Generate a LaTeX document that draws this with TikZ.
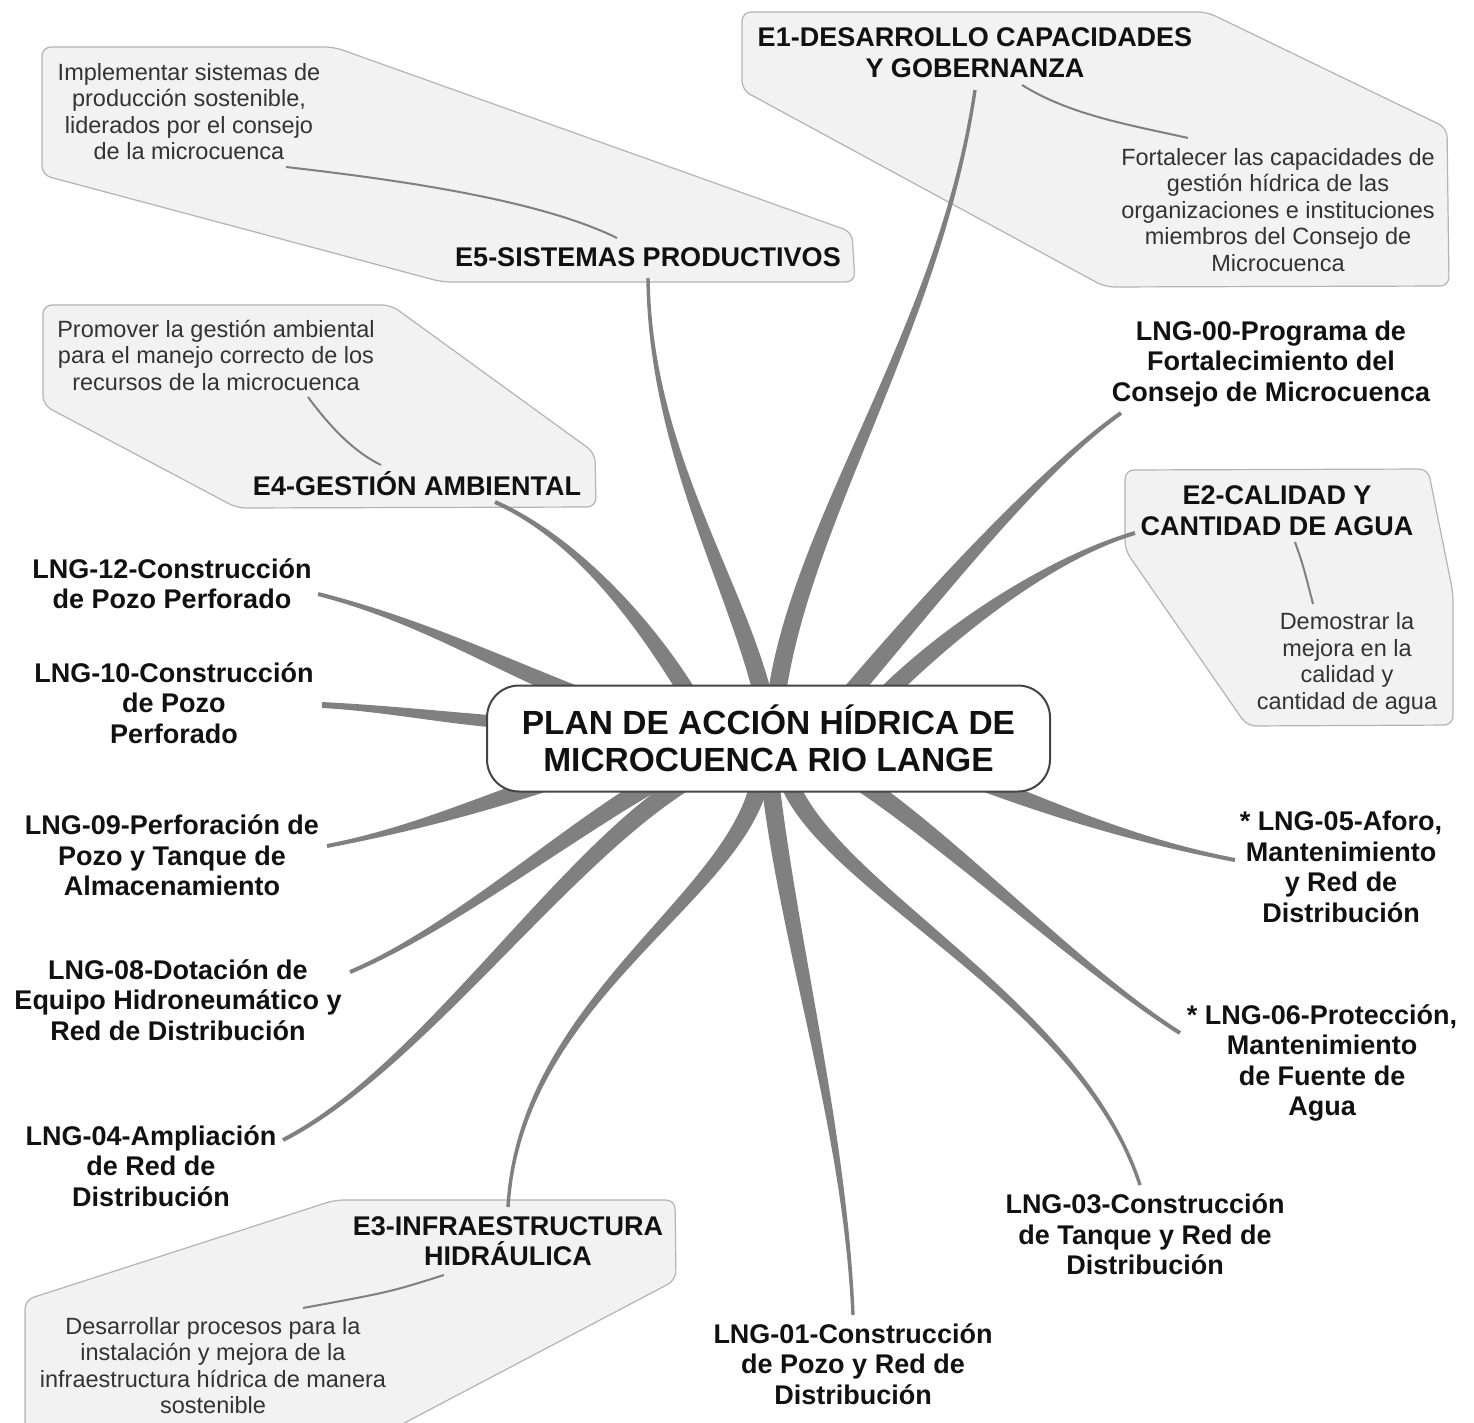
\documentclass[tikz,border=0pt]{standalone}
\usepackage{fontspec}
\setmainfont{Liberation Sans}
\usetikzlibrary{calc}
\definecolor{brc}{HTML}{808080}
\definecolor{boxfill}{HTML}{F2F2F2}
\definecolor{boxline}{HTML}{B4B4B4}
\definecolor{desctext}{HTML}{333333}
\definecolor{labtext}{HTML}{111111}
\definecolor{rootline}{HTML}{444444}
\tikzset{
  box/.style={fill=boxfill, draw=boxline, line width=1.2pt, rounded corners=9pt},
  lab/.style={align=center, inner sep=0pt, text=labtext, font=\bfseries\fontsize{27}{30.5}\selectfont},
  desc/.style={align=center, inner sep=0pt, text=desctext, font=\fontsize{23.5}{26.5}\selectfont},
  callout/.style={draw=brc, line width=2pt},
  rootbox/.style={draw=rootline, line width=2pt, fill=white, rounded corners=32pt,
    minimum width=563pt, minimum height=106pt, inner sep=0pt, align=center,
    text=labtext, font=\bfseries\fontsize{33.5}{37}\selectfont},
}
\newcommand\mybranch[6]{%
  \fill[brc] ($(#1)!#5!90:#2$) .. controls ($#2!#5!-90:(#1)$) and ($#3!#6!90:(#4)$) .. ($(#4)!#6!-90:#3$)
   -- ($(#4)!#6!90:#3$) .. controls ($#3!#6!-90:(#4)$) and ($#2!#5!90:(#1)$) .. ($(#1)!#5!-90:#2$) -- cycle;}
\begin{document}
\begin{tikzpicture}[x=1pt,y=-1pt]
\useasboundingbox (0,0) rectangle (1474,1423);
\clip (0,0) rectangle (1474,1423);
\fill[white] (0,0) rectangle (1474,1423);

% callout boxes
\draw[box] (742,12) -- (1207,12) -- (1447,128) -- (1449,286) -- (1105,287) -- (742,90) -- cycle;
\draw[box] (42,47) -- (334,47) -- (852,232) -- (855,282) -- (442,282) -- (42,175) -- cycle;
\draw[box] (43,305) -- (391,305) -- (595,453) -- (596,507) -- (237,508) -- (43,405) -- cycle;
\draw[box] (1125,470) -- (1428,469) -- (1453,593) -- (1453,725) -- (1247,726) -- (1125,550) -- cycle;
\draw[box] (335,1200) -- (675,1200) -- (676,1280) -- (372,1440) -- (25,1440) -- (25,1300) -- cycle;

% text nodes
\node[lab] (e1) at (975,52.5) {E1-DESARROLLO CAPACIDADES\\Y GOBERNANZA};
\node[desc] (e1d) at (1278,209.8) {Fortalecer las capacidades de\\gestión hídrica de las\\organizaciones e instituciones\\miembros del Consejo de\\Microcuenca};
\node[lab] (e5) at (648,257) {E5-SISTEMAS PRODUCTIVOS};
\node[desc] (e5d) at (189,111.5) {Implementar sistemas de\\producción sostenible,\\liderados por el consejo\\de la microcuenca};
\node[lab] (e4) at (417,484) {E4-GESTIÓN AMBIENTAL};
\node[desc] (e4d) at (216,355) {Promover la gestión ambiental\\para el manejo correcto de los\\recursos de la microcuenca};
\node[lab] (e2) at (1277,510.5) {E2-CALIDAD Y\\CANTIDAD DE AGUA};
\node[desc] (e2d) at (1347,663.5) {Demostrar la\\mejora en la\\calidad y\\cantidad de agua};
\node[lab] (e3) at (508,1241) {E3-INFRAESTRUCTURA\\HIDRÁULICA};
\node[desc] (e3d) at (213,1365.5) {Desarrollar procesos para la\\instalación y mejora de la\\infraestructura hídrica de manera\\sostenible};
\node[lab] (l00) at (1271,364) {LNG-00-Programa de\\Fortalecimiento del\\Consejo de Microcuenca};
\node[lab] (l05) at (1341,867) {* LNG-05-Aforo,\\Mantenimiento\\y Red de\\Distribución};
\node[lab] (l06) at (1322,1062.7) {* LNG-06-Protección,\\Mantenimiento\\de Fuente de\\Agua};
\node[lab] (l03) at (1145,1234.7) {LNG-03-Construcción\\de Tanque y Red de\\Distribución};
\node[lab] (l01) at (853,1364) {LNG-01-Construcción\\de Pozo y Red de\\Distribución};
\node[lab] (l04) at (151,1166) {LNG-04-Ampliación\\de Red de\\Distribución};
\node[lab] (l08) at (178,1000) {LNG-08-Dotación de\\Equipo Hidroneumático y\\Red de Distribución};
\node[lab] (l09) at (172,855.5) {LNG-09-Perforación de\\Pozo y Tanque de\\Almacenamiento};
\node[lab] (l10) at (174,703) {LNG-10-Construcción\\de Pozo\\Perforado};
\node[lab] (l12) at (172,583.5) {LNG-12-Construcción\\de Pozo Perforado};

% branch start points (under root) and free ends
\coordinate (s01) at (776,700);  \coordinate (t01) at (975,90);
\coordinate (s02) at (764,700);  \coordinate (t02) at (648,278);
\coordinate (s03) at (692,700);  \coordinate (t03) at (495,502);
\coordinate (s04) at (590,700);  \coordinate (t04) at (318,594);
\coordinate (s05) at (500,722);  \coordinate (t05) at (322,705);
\coordinate (s06) at (560,778);  \coordinate (t06) at (327,846);
\coordinate (s07) at (655,782);  \coordinate (t07) at (350,972);
\coordinate (s08) at (685,782);  \coordinate (t08) at (283,1140);
\coordinate (s09) at (760,780);  \coordinate (t09) at (508,1207);
\coordinate (s10) at (770,780);  \coordinate (t10) at (853,1315);
\coordinate (s11) at (788,780);  \coordinate (t11) at (1140,1185);
\coordinate (s12) at (850,775);  \coordinate (t12) at (1180,1033);
\coordinate (s13) at (950,770);  \coordinate (t13) at (1235,860);
\coordinate (s14) at (880,700);  \coordinate (t14) at (1135,533);
\coordinate (s15) at (845,700);  \coordinate (t15) at (1121,413);

\mybranch{s01}{(800,520)}{(940,330)}{t01}{9pt}{1.7pt}
\mybranch{s02}{(735,580)}{(650,450)}{t02}{9pt}{1.7pt}
\mybranch{s03}{(650,630)}{(580,540)}{t03}{8.5pt}{2pt}
\mybranch{s04}{(500,665)}{(420,620)}{t04}{8.5pt}{2pt}
\mybranch{s05}{(440,717)}{(380,708)}{t05}{6pt}{3pt}
\mybranch{s06}{(480,805)}{(410,830)}{t06}{8.5pt}{2pt}
\mybranch{s07}{(570,830)}{(450,930)}{t07}{9pt}{2pt}
\mybranch{s08}{(560,860)}{(420,1070)}{t08}{9pt}{2pt}
\mybranch{s09}{(735,900)}{(520,1000)}{t09}{9pt}{1.7pt}
\mybranch{s10}{(790,950)}{(845,1130)}{t10}{9pt}{1.7pt}
\mybranch{s11}{(830,890)}{(1080,1000)}{t11}{9pt}{1.7pt}
\mybranch{s12}{(950,840)}{(1080,970)}{t12}{9pt}{2pt}
\mybranch{s13}{(1040,805)}{(1130,840)}{t13}{8.5pt}{2pt}
\mybranch{s14}{(960,620)}{(1060,555)}{t14}{8.5pt}{2pt}
\mybranch{s15}{(930,600)}{(1040,470)}{t15}{9pt}{2pt}

% callout links inside boxes
\coordinate (c1a) at (1022,85);  \coordinate (c1b) at (1188,138);
\coordinate (c5a) at (617,238);  \coordinate (c5b) at (286,167);
\coordinate (c4a) at (381,465);  \coordinate (c4b) at (308,397);
\coordinate (c2a) at (1295,542); \coordinate (c2b) at (1313,604);
\coordinate (c3a) at (444,1275); \coordinate (c3b) at (303,1308);
\draw[callout] (c1a) .. controls (1070,115) and (1130,125) .. (c1b);
\draw[callout] (c5a) .. controls (540,200) and (400,180) .. (c5b);
\draw[callout] (c4a) .. controls (350,450) and (325,420) .. (c4b);
\draw[callout] (c2a) .. controls (1303,565) .. (c2b);
\draw[callout] (c3a) .. controls (390,1292) .. (c3b);

% root
\node[rootbox] (root) at (768.5,738.5) {PLAN DE ACCIÓN HÍDRICA DE\\MICROCUENCA RIO LANGE};
\end{tikzpicture}
\end{document}
